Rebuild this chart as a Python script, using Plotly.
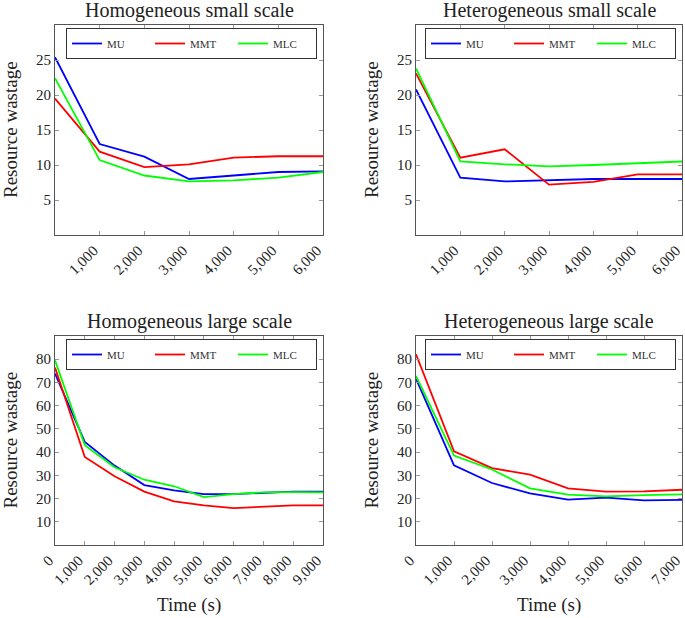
import plotly.graph_objects as go

# ---------------- data ----------------
series_names = ["MU", "MMT", "MLC"]
series_colors = ["#0000ff", "#ff0000", "#00ff00"]

# Homogeneous small scale
hs_time = [0, 1000, 2000, 3000, 4000, 5000, 6000]
hs_mu = [25.4, 13.0, 11.2, 8.0, 8.5, 9.0, 9.1]
hs_mmt = [19.5, 11.9, 9.7, 10.1, 11.05, 11.25, 11.25]
hs_mlc = [22.4, 10.7, 8.5, 7.65, 7.8, 8.2, 9.0]

# Heterogeneous small scale
ts_time = [0, 1000, 2000, 3000, 4000, 5000, 6000]
ts_mu = [20.8, 8.2, 7.65, 7.8, 8.0, 8.0, 8.0]
ts_mmt = [23.1, 11.05, 12.25, 7.2, 7.6, 8.65, 8.65]
ts_mlc = [23.8, 10.5, 10.1, 9.8, 10.0, 10.3, 10.5]

# Homogeneous large scale
hl_time = [0, 1000, 2000, 3000, 4000, 5000, 6000, 7000, 8000, 9000]
hl_mu = [73.8, 44.4, 34.2, 25.8, 23.5, 21.9, 21.9, 22.4, 23.0, 23.0]
hl_mmt = [76.4, 37.9, 29.6, 23.0, 18.8, 17.1, 15.9, 16.6, 17.1, 17.1]
hl_mlc = [79.5, 43.0, 33.5, 28.1, 25.3, 20.6, 21.9, 22.7, 22.8, 22.7]

# Heterogeneous large scale
tl_time = [0, 1000, 2000, 3000, 4000, 5000, 6000, 7000]
tl_mu = [71.6, 34.3, 26.7, 22.2, 19.5, 20.4, 19.2, 19.4]
tl_mmt = [82.1, 40.3, 33.1, 30.3, 24.4, 23.0, 23.1, 23.8]
tl_mlc = [72.8, 38.5, 32.5, 24.4, 21.7, 20.9, 21.5, 21.8]

titles = ["Homogeneous small scale", "Heterogeneous small scale",
          "Homogeneous large scale", "Heterogeneous large scale"]
small_xticks = [1000, 2000, 3000, 4000, 5000, 6000]
small_yticks = [5, 10, 15, 20, 25]
hl_xticks = [0, 1000, 2000, 3000, 4000, 5000, 6000, 7000, 8000, 9000]
tl_xticks = [0, 1000, 2000, 3000, 4000, 5000, 6000, 7000]
large_yticks = [10, 20, 30, 40, 50, 60, 70, 80]

# ---------------- layout geometry ----------------
W, H = 685, 618
FONT = "Liberation Serif"

def px_x(p):
    return p / W

def px_y(p):
    return (H - p) / H

panels = [
    dict(time=hs_time, ys=[hs_mu, hs_mmt, hs_mlc], xd=(55, 323), yd=(25, 235),
         xr=[0, 6000], yr=[0, 30], xt=small_xticks, yt=small_yticks),
    dict(time=ts_time, ys=[ts_mu, ts_mmt, ts_mlc], xd=(416, 682), yd=(25, 235),
         xr=[0, 6000], yr=[0, 30], xt=small_xticks, yt=small_yticks),
    dict(time=hl_time, ys=[hl_mu, hl_mmt, hl_mlc], xd=(55, 323), yd=(336, 545),
         xr=[0, 9000], yr=[0, 90], xt=hl_xticks, yt=large_yticks),
    dict(time=tl_time, ys=[tl_mu, tl_mmt, tl_mlc], xd=(416, 682), yd=(336, 545),
         xr=[0, 7000], yr=[0, 90], xt=tl_xticks, yt=large_yticks),
]

fig = go.Figure()
layout = dict(
    width=W, height=H,
    margin=dict(l=0, r=0, t=0, b=0, autoexpand=False),
    paper_bgcolor="white", plot_bgcolor="white",
    font=dict(family=FONT, color="#222222"),
    showlegend=True,
)
annotations = []

for i, p in enumerate(panels):
    n = i + 1
    xa = "x" if n == 1 else f"x{n}"
    ya = "y" if n == 1 else f"y{n}"
    leg = "legend" if n == 1 else f"legend{n}"
    for name, color, y in zip(series_names, series_colors, p["ys"]):
        fig.add_trace(go.Scatter(
            x=p["time"], y=y, mode="lines", name=name,
            line=dict(color=color, width=1.8),
            xaxis=xa, yaxis=ya, legend=leg,
        ))
    axis_common = dict(
        showline=True, mirror="allticks", linecolor="#555555", linewidth=1,
        ticks="inside", ticklen=4, tickcolor="#999999", tickwidth=0.8,
        showgrid=False, zeroline=False, automargin=False,
        tickfont=dict(family=FONT, size=15, color="#222222"),
    )
    layout["xaxis" if n == 1 else f"xaxis{n}"] = dict(
        axis_common, domain=[px_x(p["xd"][0]), px_x(p["xd"][1])],
        range=p["xr"], tickvals=p["xt"], tickformat=",d", tickangle=-45,
        ticklabelshift=-6, ticklabelstandoff=0,
        anchor=ya,
    )
    layout["yaxis" if n == 1 else f"yaxis{n}"] = dict(
        axis_common, domain=[px_y(p["yd"][1]), px_y(p["yd"][0])],
        range=p["yr"], tickvals=p["yt"], anchor=xa,
    )
    layout[leg] = dict(
        x=px_x(p["xd"][1] - 6), y=px_y(p["yd"][0] + 3),
        xanchor="right", yanchor="top", orientation="h",
        bordercolor="#333333", borderwidth=1, bgcolor="white",
        font=dict(family=FONT, size=11, color="#333333"),
        entrywidth=38, entrywidthmode="pixels", itemwidth=30,
        tracegroupgap=0,
    )
    cx = px_x((p["xd"][0] + p["xd"][1]) / 2)
    annotations.append(dict(
        text=titles[i], x=cx, y=px_y(p["yd"][0] - 15), xref="paper", yref="paper",
        xanchor="center", yanchor="middle", showarrow=False,
        font=dict(family=FONT, size=20, color="#222222"),
    ))
    annotations.append(dict(
        text="Resource wastage", x=px_x(p["xd"][0] - 45), y=px_y((p["yd"][0] + p["yd"][1]) / 2),
        xref="paper", yref="paper", xanchor="center", yanchor="middle",
        textangle=-90, showarrow=False,
        font=dict(family=FONT, size=19, color="#222222"),
    ))
    if n >= 3:
        annotations.append(dict(
            text="Time (s)", x=cx, y=px_y(605), xref="paper", yref="paper",
            xanchor="center", yanchor="middle", showarrow=False,
            font=dict(family=FONT, size=19, color="#222222"),
        ))

layout["annotations"] = annotations
fig.update_layout(**layout)
fig.write_html(
    "out.html",
    config={"displayModeBar": False},
    post_script="document.body.style.margin='0';",
)
